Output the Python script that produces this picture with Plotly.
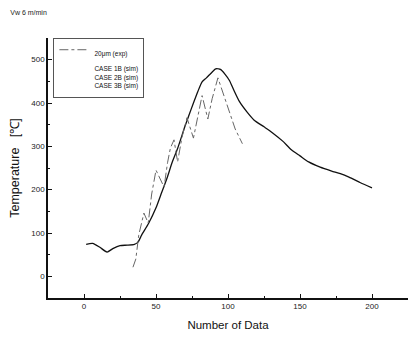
import plotly.graph_objects as go

# Experimental (20 μm) data
exp_x = [34, 36, 38, 41.6, 44.6, 47, 50, 55.6, 58, 60, 62.5, 65, 68, 71.5, 76, 79, 82, 86, 89, 93, 97, 101, 105, 110]
exp_y = [21, 40, 95, 146, 123, 190, 245, 206, 262, 296, 315, 264, 320, 366, 319, 370, 417, 363, 410, 458, 420, 380, 340, 306]

# Simulation curve
sim_x = [1.5, 6, 11, 16, 20, 25, 30, 35, 37.5, 40, 45, 50, 54, 58, 61, 65, 70, 73, 76, 79, 82, 85, 88, 91.5,
         95, 98, 101, 104, 108, 113, 118, 125, 131, 138, 144, 150, 156, 164, 172, 178, 184, 192, 200]
sim_y = [74, 76, 67, 56, 64, 71, 72, 74, 79, 95, 123, 158, 194, 230, 261, 295, 345, 373, 400, 426, 449, 458, 468, 479,
         477, 466, 452, 430, 403, 380, 361, 345, 331, 312, 292, 278, 264, 252, 243, 237, 229, 216, 204]

x_ticks = [0, 50, 100, 150, 200]
y_ticks = [0, 100, 200, 300, 400, 500]

FONT = "Liberation Sans, Arial, sans-serif"
NB = "\u00a0"

fig = go.Figure()
fig.add_trace(go.Scatter(x=sim_x, y=sim_y, mode="lines", name="CASE 1B (sim)", showlegend=False,
                         line=dict(color="#111111", width=1.3, shape="spline", smoothing=0.6)))
fig.add_trace(go.Scatter(x=exp_x, y=exp_y, mode="lines", name="20μm (exp)",
                         line=dict(color="#666666", width=1, dash="dashdot")))
fig.add_trace(go.Scatter(x=[None], y=[None], mode="lines",
                         name="CASE 1B (sim)<br>CASE 2B (sim)<br>CASE 3B (sim)",
                         line=dict(color="rgba(0,0,0,0)", width=1)))

fig.update_layout(
    width=409, height=338,
    margin=dict(l=48, r=1, t=38, b=40),
    paper_bgcolor="white", plot_bgcolor="white",
    font=dict(family=FONT, color="#222222", size=8),
    title=dict(text="Vw 6 m/min", x=0.025, xref="container", xanchor="left",
               y=1 - 13 / 338, yref="container", yanchor="middle",
               font=dict(size=7, family=FONT, color="#222222")),
    legend=dict(x=0.015, y=1, xanchor="left", yanchor="top", font=dict(size=6.5, family=FONT, color="#111111"),
                bordercolor="#555555", borderwidth=1, bgcolor="rgba(255,255,255,0)",
                itemwidth=30, tracegroupgap=0, valign="top"),
    xaxis=dict(range=[-25, 225], tickvals=x_ticks, ticks="inside", ticklen=4, tickwidth=1,
               tickcolor="#111111", showline=True, linecolor="#111111", linewidth=1.5,
               showgrid=False, zeroline=False, tickfont=dict(size=8),
               minor=dict(tickvals=[25, 75, 125, 175], ticks="inside", ticklen=2, tickcolor="#111111"),
               title=dict(text="Number of Data", font=dict(size=11.5, family=FONT, color="#111111"), standoff=11)),
    yaxis=dict(range=[-50, 550], tickvals=y_ticks, ticks="inside", ticklen=4, tickwidth=1,
               tickcolor="#111111", showline=True, linecolor="#111111", linewidth=1.5,
               showgrid=False, zeroline=False, tickfont=dict(size=8),
               minor=dict(tickvals=[50, 150, 250, 350, 450], ticks="inside", ticklen=2, tickcolor="#111111"),
               title=dict(text="Temperature" + NB * 3 + "[℃]",
                          font=dict(size=12.5, family=FONT, color="#111111"), standoff=9)),
)

fig.write_html("out.html")
